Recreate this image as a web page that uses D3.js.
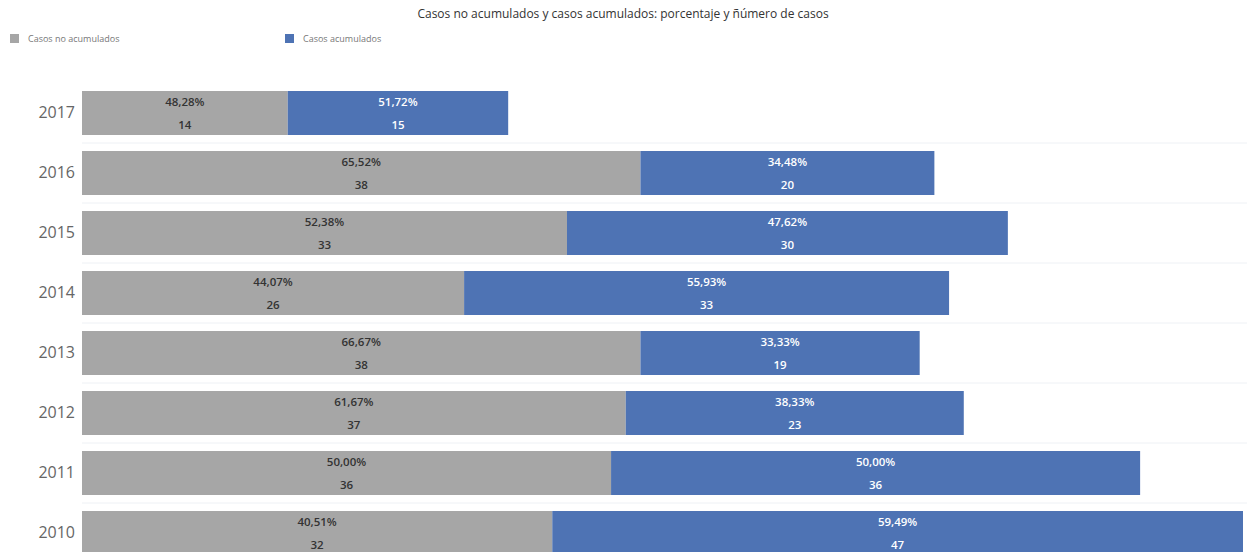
<!DOCTYPE html>
<html>
<head>
<meta charset="utf-8">
<script src="https://cdn.jsdelivr.net/npm/d3@7"></script>
<style>
  body { margin: 0; background: #fff; }
  text { font-family: "Open Sans", sans-serif; }
</style>
</head>
<body>
<div id="chart"></div>
<script>
const width = 1247;
const height = 552;

// data
const years = ["2017", "2016", "2015", "2014", "2013", "2012", "2011", "2010"];
const noAcum = [14, 38, 33, 26, 38, 37, 36, 32];
const acum = [15, 20, 30, 33, 19, 23, 36, 47];
const pctNoAcum = ["48,28%", "65,52%", "52,38%", "44,07%", "66,67%", "61,67%", "50,00%", "40,51%"];
const pctAcum = ["51,72%", "34,48%", "47,62%", "55,93%", "33,33%", "38,33%", "50,00%", "59,49%"];
const seriesNames = ["Casos no acumulados", "Casos acumulados"];
const colors = ["#a6a6a6", "#4e73b4"];

const rows = years.map((y, i) => ({
  year: y,
  segs: [
    { s: 0, x0: 0, x1: noAcum[i], n: noAcum[i], pct: pctNoAcum[i] },
    { s: 1, x0: noAcum[i], x1: noAcum[i] + acum[i], n: acum[i], pct: pctAcum[i] }
  ]
}));

const svg = d3.select("#chart")
  .append("svg")
  .attr("width", width)
  .attr("height", height);

// title
svg.append("text")
  .attr("x", 623)
  .attr("y", 18)
  .attr("text-anchor", "middle")
  .style("font-size", "12px")
  .attr("fill", "#333")
  .text("Casos no acumulados y casos acumulados: porcentaje y ñúmero de casos");

// legend
const legendX = [10, 285];
seriesNames.forEach((name, i) => {
  svg.append("rect")
    .attr("x", legendX[i]).attr("y", 34)
    .attr("width", 9).attr("height", 9)
    .attr("fill", colors[i]);
  svg.append("text")
    .attr("x", legendX[i] + 18).attr("y", 42)
    .style("font-size", "9px")
    .attr("fill", "#777")
    .text(name);
});

//scales
const x = d3.scaleLinear()
  .domain([0, 79])
  .range([82, 1243]);

const y = d3.scaleBand()
  .domain(years)
  .range([91, 555])
  .paddingInner(16 / 60)
  .paddingOuter(0);

// faint row separators
svg.append("g")
  .selectAll("line")
  .data(years)
  .enter()
  .append("line")
  .attr("x1", 82)
  .attr("x2", width)
  .attr("y1", (d) => y(d) + y.bandwidth() + 8)
  .attr("y2", (d) => y(d) + y.bandwidth() + 8)
  .attr("stroke", "#eef1f5")
  .attr("stroke-width", 1);

// y axis labels
const yAxis = svg.append("g")
  .attr("transform", "translate(77,0)")
  .call(d3.axisLeft(y).tickSize(0).tickPadding(2));
yAxis.select(".domain").remove();
yAxis.selectAll("text")
  .style("font-family", "'Open Sans', sans-serif")
  .style("font-size", "16px")
  .attr("fill", "#666");

const rowG = svg.append("g")
  .selectAll("g")
  .data(rows)
  .enter()
  .append("g")
  .attr("transform", (d) => "translate(0," + y(d.year) + ")");

const seg = rowG.selectAll("g")
  .data((d) => d.segs)
  .enter()
  .append("g");

seg.append("rect")
  .attr("x", (d) => x(d.x0))
  .attr("y", 0)
  .attr("width", (d) => x(d.x1) - x(d.x0))
  .attr("height", y.bandwidth())
  .attr("fill", (d) => colors[d.s]);

seg.append("text")
  .attr("x", (d) => (x(d.x0) + x(d.x1)) / 2)
  .attr("y", 11)
  .attr("dy", "0.35em")
  .attr("text-anchor", "middle")
  .style("font-size", "11.5px")
  .style("font-weight", "600")
  .attr("fill", (d) => (d.s === 0 ? "#333" : "#fff"))
  .text((d) => d.pct);

seg.append("text")
  .attr("x", (d) => (x(d.x0) + x(d.x1)) / 2)
  .attr("y", 34)
  .attr("dy", "0.35em")
  .attr("text-anchor", "middle")
  .style("font-size", "11.5px")
  .style("font-weight", "600")
  .attr("fill", (d) => (d.s === 0 ? "#333" : "#fff"))
  .text((d) => d.n);
</script>
</body>
</html>
